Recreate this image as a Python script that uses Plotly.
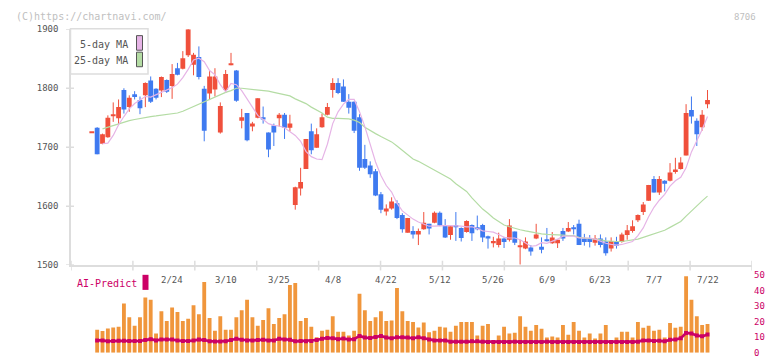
import plotly.graph_objects as go

W, H = 772, 361

# ---------------- data ----------------
candle_idx = list(range(1, 117))
open_ = [1725, 1733, 1706, 1717, 1753, 1749, 1797, 1768, 1790, 1780,
         1788, 1813, 1799, 1796, 1814, 1804, 1834, 1833, 1856, 1840,
         1853, 1799, 1791, 1798, 1725, 1797, 1840, 1830, 1745, 1758,
         1735, 1750, 1751, 1725, 1737, 1749, 1755, 1733, 1602, 1630,
         1663, 1727, 1699, 1734, 1755, 1797, 1809, 1803, 1777, 1777,
         1751, 1680, 1669, 1659, 1620, 1591, 1596, 1605, 1585, 1555,
         1558, 1552, 1561, 1570, 1572, 1589, 1568, 1551, 1566, 1563,
         1556, 1568, 1564, 1568, 1549, 1538, 1534, 1545, 1543, 1557,
         1531, 1528, 1530, 1545, 1531, 1543, 1537, 1537, 1558, 1557,
         1563, 1570, 1545, 1545, 1538, 1545, 1540, 1528, 1539, 1539,
         1551, 1558, 1576, 1590, 1609, 1646, 1623, 1643, 1643, 1658,
         1663, 1686, 1763, 1745, 1734, 1773]
high = [1725, 1734, 1723, 1754, 1776, 1781, 1800, 1788, 1795, 1786,
        1810, 1820, 1800, 1820, 1815, 1841, 1843, 1863, 1902, 1860,
        1871, 1804, 1829, 1834, 1776, 1831, 1860, 1831, 1765, 1758,
        1743, 1783, 1769, 1725, 1740, 1758, 1758, 1755, 1633, 1665,
        1714, 1740, 1732, 1757, 1775, 1817, 1817, 1815, 1790, 1778,
        1756, 1704, 1676, 1663, 1624, 1603, 1615, 1610, 1588, 1580,
        1566, 1562, 1590, 1570, 1591, 1591, 1578, 1566, 1590, 1564,
        1576, 1569, 1584, 1570, 1550, 1548, 1555, 1548, 1578, 1557,
        1543, 1547, 1534, 1570, 1547, 1563, 1556, 1544, 1563, 1573,
        1568, 1577, 1553, 1551, 1551, 1552, 1547, 1547, 1548, 1555,
        1568, 1576, 1586, 1607, 1636, 1651, 1651, 1644, 1673, 1682,
        1683, 1773, 1786, 1749, 1763, 1797]
low = [1725, 1688, 1705, 1716, 1743, 1739, 1757, 1760, 1781, 1756,
       1768, 1775, 1781, 1785, 1792, 1782, 1822, 1832, 1853, 1822,
       1815, 1710, 1780, 1786, 1723, 1792, 1839, 1777, 1732, 1710,
       1727, 1749, 1740, 1683, 1702, 1735, 1714, 1727, 1594, 1618,
       1663, 1688, 1699, 1733, 1754, 1784, 1790, 1777, 1757, 1724,
       1660, 1663, 1648, 1617, 1588, 1584, 1594, 1578, 1555, 1555,
       1545, 1534, 1560, 1552, 1571, 1566, 1546, 1543, 1541, 1540,
       1555, 1541, 1559, 1539, 1528, 1530, 1530, 1529, 1540, 1534,
       1501, 1527, 1516, 1544, 1520, 1540, 1536, 1529, 1541, 1556,
       1552, 1534, 1533, 1530, 1533, 1530, 1516, 1523, 1528, 1538,
       1543, 1555, 1573, 1585, 1609, 1623, 1619, 1625, 1642, 1655,
       1662, 1686, 1740, 1702, 1728, 1766]
close = [1725, 1688, 1722, 1750, 1755, 1768, 1764, 1784, 1785, 1766,
         1809, 1777, 1784, 1819, 1794, 1824, 1823, 1851, 1900, 1857,
         1819, 1728, 1820, 1820, 1770, 1824, 1842, 1779, 1751, 1712,
         1740, 1783, 1747, 1696, 1725, 1755, 1733, 1740, 1632, 1641,
         1714, 1695, 1722, 1751, 1768, 1809, 1792, 1777, 1767, 1728,
         1665, 1665, 1654, 1618, 1594, 1596, 1608, 1580, 1561, 1580,
         1552, 1558, 1572, 1562, 1589, 1567, 1547, 1566, 1565, 1546,
         1575, 1554, 1562, 1547, 1545, 1541, 1545, 1539, 1567, 1538,
         1532, 1540, 1523, 1552, 1526, 1542, 1547, 1543, 1545, 1563,
         1562, 1534, 1539, 1539, 1545, 1534, 1520, 1541, 1533, 1552,
         1559, 1566, 1585, 1603, 1636, 1623, 1646, 1638, 1657, 1662,
         1674, 1758, 1752, 1722, 1755, 1780]

ma_idx = list(range(3, 117))
ma5 = [1706, 1707, 1720, 1738, 1752, 1765, 1774, 1780, 1786, 1785,
       1789, 1793, 1797, 1801, 1807, 1818, 1832, 1848, 1851, 1845,
       1830, 1823, 1806, 1794, 1808, 1806, 1796, 1782, 1766, 1754,
       1747, 1740, 1737, 1736, 1733, 1727, 1720, 1710, 1693, 1684,
       1680, 1679, 1705, 1740, 1760, 1773, 1781, 1781, 1760, 1735,
       1705, 1675, 1652, 1635, 1624, 1605, 1592, 1585, 1578, 1573,
       1570, 1566, 1566, 1567, 1567, 1567, 1567, 1566, 1565, 1565,
       1562, 1558, 1557, 1556, 1552, 1547, 1546, 1546, 1543, 1537,
       1532, 1533, 1538, 1537, 1540, 1544, 1549, 1549, 1549, 1546,
       1546, 1546, 1544, 1540, 1537, 1535, 1534, 1535, 1537, 1540,
       1550, 1563, 1582, 1598, 1610, 1620, 1634, 1643, 1649, 1665,
       1692, 1710, 1730, 1752]
ma25 = [1731, 1734, 1737, 1740, 1742, 1745, 1747, 1749, 1751, 1752,
        1753, 1754, 1755, 1756, 1758, 1761, 1765, 1770, 1774, 1777,
        1781, 1786, 1790, 1793, 1796, 1800, 1800, 1799, 1798, 1798,
        1797, 1795, 1793, 1791, 1789, 1787, 1782, 1778, 1774, 1768,
        1763, 1758, 1751, 1749, 1749, 1749, 1748, 1746, 1742, 1734,
        1728, 1723, 1718, 1713, 1709, 1702, 1695, 1688, 1680, 1676,
        1671, 1666, 1660, 1655, 1650, 1646, 1638, 1632, 1625, 1614,
        1604, 1595, 1588, 1580, 1574, 1568, 1565, 1562, 1560, 1558,
        1556, 1554, 1553, 1552, 1552, 1551, 1551, 1550, 1550, 1547,
        1546, 1546, 1545, 1543, 1541, 1540, 1540, 1540, 1541, 1542,
        1544, 1547, 1550, 1553, 1556, 1559, 1564, 1569, 1574, 1583,
        1592, 1600, 1609, 1617]

vol_idx = list(range(2, 117))
volume = [14.9, 14.0, 15.7, 16.3, 16.8, 31.8, 23.0, 17.4, 23.0, 35.6,
          34.3, 12.4, 26.8, 20.5, 29.3, 26.4, 20.5, 22.0, 30.6, 24.9,
          45.6, 22.4, 14.2, 23.6, 14.9, 14.9, 23.0, 27.4, 34.3, 23.0,
          17.4, 21.1, 28.7, 18.6, 22.4, 24.9, 43.7, 45.0, 20.5, 22.4,
          16.8, 10.1, 14.2, 14.9, 23.6, 13.6, 13.6, 11.1, 14.2, 38.1,
          27.4, 20.5, 23.0, 26.8, 20.5,
          20.9, 41.8, 26.8, 20.5, 19.9, 16.3, 19.5, 13.2, 14.2, 16.8,
          16.3, 13.6, 17.4, 19.9, 19.9, 19.9, 11.1, 17.4, 18.6, 7.5,
          11.1, 16.8, 12.4, 13.0, 23.6, 16.8, 14.2, 18.0, 15.5, 9.8,
          10.5, 9.8, 18.0, 11.7, 19.9, 14.2, 9.8, 12.4, 9.2, 12.4,
          18.0, 7.3, 9.8, 13.6, 13.6, 9.8, 19.9, 16.1, 17.4, 14.2,
          14.9, 9.8, 19.3, 16.1, 16.8, 49.4, 34.3, 23.6, 18.0, 18.6]
ai_predict = [8.0, 8.0, 7.4, 7.6, 7.8, 7.8, 7.6, 7.6, 7.6, 8.2,
              8.8, 8.0, 8.6, 8.6, 8.6, 7.9, 7.6, 7.6, 7.9, 8.5,
              8.2, 7.5, 7.3, 7.3, 7.5, 8.2, 9.0, 8.4, 8.0, 8.0,
              8.2, 8.4, 8.0, 8.0, 9.0, 8.6, 8.4, 7.4, 7.6, 7.4,
              7.6, 8.2, 9.0, 9.6, 9.4, 8.8, 9.2, 8.6, 8.8, 10.9,
              9.8, 9.6, 10.2, 10.9, 9.8,
              9.4, 10.0, 10.0, 9.8, 9.4, 10.0, 9.4, 8.6, 8.0, 8.0,
              8.0, 7.2, 7.2, 7.2, 7.2, 7.4, 7.4, 7.2, 7.0, 7.0,
              7.0, 7.0, 7.0, 7.2, 7.0, 7.0, 7.0, 7.0, 7.0, 7.2,
              7.0, 7.0, 7.0, 7.0, 7.0, 7.0, 7.0, 7.0, 7.0, 7.0,
              7.0, 7.0, 7.0, 7.0, 7.0, 7.0, 7.2, 8.0, 8.0, 7.6,
              7.8, 7.4, 8.4, 8.6, 9.4, 12.8, 12.4, 11.2, 10.6, 11.8]

price_ticks = [1500, 1600, 1700, 1800, 1900]
vol_ticks = [0, 10, 20, 30, 40, 50]
date_labels = ["2/24", "3/10", "3/25", "4/8", "4/22", "5/12", "5/26",
               "6/9", "6/23", "7/7", "7/22"]
date_label_idx = [16, 26, 36, 46, 56, 66, 76, 86, 96, 106, 116]

# ---------------- styling ----------------
RED = "#f0503c"
BLUE = "#3f7af0"
PINK = "#e6b4e6"
GREEN = "#b4dca4"
ORANGE = "#f0963c"
MAGENTA = "#cc0066"
GRAY_TXT = "#555555"
AXIS = "#dddddd"
FONT = "DejaVu Sans Mono"

def px(x):
    return x / W

def py(y):
    return 1 - y / H

X0, X1 = -2.885, 124.31

fig = go.Figure()

# candle bodies and wicks
for up, col in ((True, RED), (False, BLUE)):
    xs, bases, hts = [], [], []
    wx, wy = [], []
    for k, o, h, l, c in zip(candle_idx, open_, high, low, close):
        if (c >= o) != up:
            continue
        lo, hi = min(o, c), max(o, c)
        hgt = max(hi - lo, 1.6)
        xs.append(k)
        bases.append(lo)
        hts.append(hgt)
        if h > l:
            wx += [k, k, None]
            wy += [l, h, None]
    fig.add_trace(go.Scatter(x=wx, y=wy, mode="lines",
                             line=dict(color=col, width=1),
                             xaxis="x", yaxis="y", hoverinfo="skip"))
    fig.add_trace(go.Bar(x=xs, y=hts, base=bases, width=0.9,
                         marker=dict(color=col, line=dict(width=0)),
                         xaxis="x", yaxis="y"))

fig.add_trace(go.Scatter(x=ma_idx, y=ma25, mode="lines",
                         line=dict(color=GREEN, width=1.2), xaxis="x", yaxis="y"))
fig.add_trace(go.Scatter(x=ma_idx, y=ma5, mode="lines",
                         line=dict(color=PINK, width=1.2), xaxis="x", yaxis="y"))

# volume panel
fig.add_trace(go.Bar(x=vol_idx, y=volume, width=0.72,
                     marker=dict(color=ORANGE, line=dict(width=0)),
                     xaxis="x2", yaxis="y2"))
fig.add_trace(go.Scatter(x=vol_idx, y=ai_predict, mode="lines+markers",
                         line=dict(color=MAGENTA, width=2.6),
                         marker=dict(symbol="square", size=4, color=MAGENTA),
                         xaxis="x2", yaxis="y2"))

xdom = [px(71), px(752)]
fig.update_layout(
    width=W, height=H,
    margin=dict(l=0, r=0, t=0, b=0),
    paper_bgcolor="white", plot_bgcolor="white",
    showlegend=False, barmode="overlay",
    font=dict(family=FONT, size=9, color=GRAY_TXT),
    xaxis=dict(domain=xdom, range=[X0, X1], anchor="y",
               showticklabels=False, ticks="", showgrid=False,
               zeroline=False, showline=True, linecolor=AXIS, linewidth=2),
    yaxis=dict(domain=[py(267.5), py(25)], range=[1500, 1900], anchor="x",
               tickvals=price_ticks, ticks="", showgrid=False, zeroline=False,
               showline=True, linecolor=AXIS, linewidth=1.5,
               ticklabelstandoff=9,
               tickfont=dict(family=FONT, size=9, color=GRAY_TXT)),
    xaxis2=dict(domain=xdom, range=[X0, X1], anchor="y2", visible=False),
    yaxis2=dict(domain=[py(357.7), py(278)], range=[0, 50], anchor="x2",
                side="right", tickvals=vol_ticks, ticks="", showgrid=False,
                zeroline=False, showline=False, ticklabelstandoff=1,
                tickfont=dict(family=FONT, size=9, color=MAGENTA)),
)

shapes = []
# price tick marks crossing the left axis
for v in price_ticks:
    shapes.append(dict(type="line", xref="paper", yref="y",
                       x0=px(66), x1=px(74), y0=v, y1=v,
                       line=dict(color=AXIS, width=1.5)))
# evenly spaced ticks along the bottom axis
for j in range(12):
    xv = X0 + j * (X1 - X0) / 11
    shapes.append(dict(type="line", xref="x", yref="paper",
                       x0=xv, x1=xv, y0=py(263), y1=py(273),
                       line=dict(color=AXIS, width=1.5)))
# legend box
shapes.append(dict(type="rect", xref="paper", yref="paper",
                   x0=px(70.5), x1=px(148), y0=py(71), y1=py(24.5),
                   fillcolor="white", line=dict(color=AXIS, width=1.5),
                   layer="above"))
shapes.append(dict(type="rect", xref="paper", yref="paper",
                   x0=px(136.5), x1=px(142.5), y0=py(46.5), y1=py(31.5),
                   fillcolor=PINK, line=dict(color="#555555", width=1),
                   layer="above"))
shapes.append(dict(type="rect", xref="paper", yref="paper",
                   x0=px(136.5), x1=px(142.5), y0=py(63.5), y1=py(48.5),
                   fillcolor=GREEN, line=dict(color="#555555", width=1),
                   layer="above"))
# AI-Predict marker
shapes.append(dict(type="rect", xref="paper", yref="paper",
                   x0=px(142.5), x1=px(148.5), y0=py(293), y1=py(277.5),
                   fillcolor=MAGENTA, line=dict(width=0), layer="above"))
fig.update_layout(shapes=shapes)

ann = []
for lab, k in zip(date_labels, date_label_idx):
    ann.append(dict(x=k, y=py(283), xref="x", yref="paper", text=lab,
                    showarrow=False, xanchor="center", yanchor="middle",
                    font=dict(family=FONT, size=9, color=GRAY_TXT)))
ann.append(dict(x=px(14), y=py(12), xref="paper", yref="paper",
                text="(C)https://chartnavi.com/", showarrow=False,
                xanchor="left", yanchor="middle",
                font=dict(family=FONT, size=10, color="#c0c0c0")))
ann.append(dict(x=px(758), y=py(12), xref="paper", yref="paper",
                text="8706", showarrow=False, xanchor="right", yanchor="middle",
                font=dict(family=FONT, size=9, color="#c0c0c0")))
ann.append(dict(x=px(130), y=py(40.5), xref="paper", yref="paper",
                text="5-day MA", showarrow=False, xanchor="right",
                yanchor="middle", font=dict(family=FONT, size=10, color=GRAY_TXT)))
ann.append(dict(x=px(130), y=py(57.5), xref="paper", yref="paper",
                text="25-day MA", showarrow=False, xanchor="right",
                yanchor="middle", font=dict(family=FONT, size=10, color=GRAY_TXT)))
ann.append(dict(x=px(75), y=py(286), xref="paper", yref="paper",
                text="AI-Predict", showarrow=False, xanchor="left",
                yanchor="middle", font=dict(family=FONT, size=10, color=MAGENTA)))
fig.update_layout(annotations=ann)

fig.write_html("out.html")
